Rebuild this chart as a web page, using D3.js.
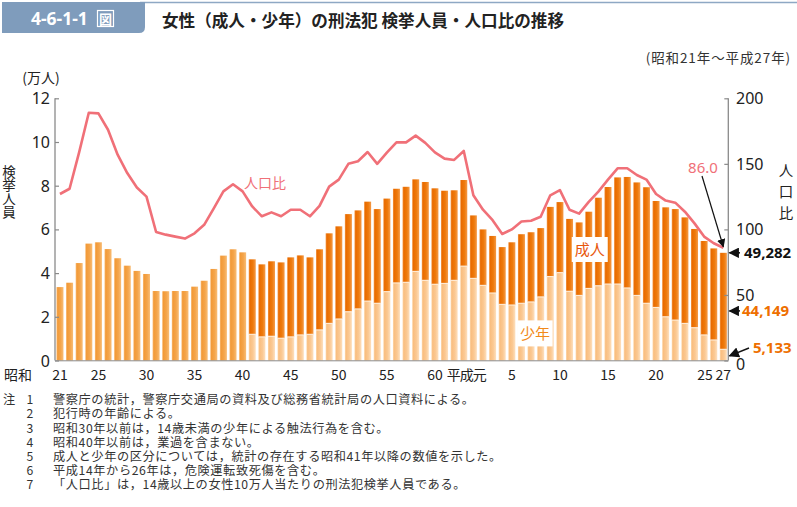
<!DOCTYPE html>
<html><head><meta charset="utf-8">
<script src="https://cdn.jsdelivr.net/npm/d3@7"></script>
<style>
html,body{margin:0;padding:0;background:#fff;}
svg{display:block;font-family:"Noto Sans","Noto Sans CJK JP",sans-serif;}
.jp{font-family:"Noto Sans CJK JP","Noto Sans",sans-serif;}
.vert{writing-mode:vertical-rl;text-orientation:upright;}
.note-line{position:relative;height:14.2px;line-height:14.2px;white-space:nowrap;font-family:"Noto Sans CJK JP","Noto Sans",sans-serif;font-size:12.2px;color:#333;}
.note-line span{position:absolute;top:0;}
</style></head>
<body>
<svg id="c" width="797" height="507"></svg>
<script>
// ---- data ----
// years 昭和21 (1946) ... 平成27 (2015)
const years = d3.range(1946, 2016);
// total female arrests (10,000 persons)
const total = [3.36,3.56,4.46,5.35,5.41,5.10,4.68,4.34,4.10,3.96,3.18,3.17,3.18,3.18,3.38,3.65,4.19,4.80,5.09,4.95,
  4.63,4.40,4.54,4.49,4.72,4.81,4.72,5.09,5.82,6.14,6.70,6.87,7.27,6.93,7.41,7.86,7.95,8.29,8.17,7.88,7.77,7.79,8.26,
  6.64,6.00,5.70,5.19,5.41,5.78,5.87,6.06,7.03,7.25,6.48,6.32,6.81,7.45,7.94,8.38,8.40,8.15,7.93,7.30,7.01,6.93,6.55,6.02,5.47,5.13,4.9282];
// juvenile (少年) from 昭和41 (1966)
const juvenileStart = 1966;
const juvenile = [1.20,1.08,1.11,1.02,1.08,1.17,1.20,1.40,1.70,1.90,2.23,2.36,2.72,2.62,3.15,3.55,3.58,4.08,3.67,3.49,3.53,3.67,4.32,
  3.76,3.44,3.09,2.57,2.54,2.62,2.68,2.91,3.84,4.02,3.17,2.98,3.30,3.42,3.50,3.50,3.32,2.98,2.62,2.43,2.00,1.85,1.70,1.50,1.17,0.94,0.5133];
// population ratio (人口比)
const ratio = [127,131,159,189,188.5,176,157,143,132,125,98,96,94.5,93,97,103.5,116,129,134.4,129,
  117.5,110,113,110,115,115,110,118,132.6,138,150,152,159,150,158.5,166.4,166.4,171.5,166,158.8,154,153,159.8,
  126,115,107,96.5,100,106,106.6,109.7,126,130,115,112,121,128.8,138,146.6,146.6,141.5,138,127,122,120.4,113.5,104.6,94.5,89.4,86.0];
const xTickYears = [1946,1950,1955,1960,1965,1970,1975,1980,1985,1989,1993,1998,2003,2008,2013,2015];
const xTickLabels = ["21","25","30","35","40","45","50","55","60","平成元","5","10","15","20","25","27"];
const leftTicks = [0,2,4,6,8,10,12];
const rightTicks = [0,50,100,150,200];
const notes = [
  ["注","1","警察庁の統計，警察庁交通局の資料及び総務省統計局の人口資料による。"],
  ["","2","犯行時の年齢による。"],
  ["","3","昭和30年以前は，14歳未満の少年による触法行為を含む。"],
  ["","4","昭和40年以前は，業過を含まない。"],
  ["","5","成人と少年の区分については，統計の存在する昭和41年以降の数値を示した。"],
  ["","6","平成14年から26年は，危険運転致死傷を含む。"],
  ["","7","「人口比」は，14歳以上の女性10万人当たりの刑法犯検挙人員である。"]
];

// ---- scales ----
const svg = d3.select("#c");
const x = d3.scaleBand().domain(years).range([55, 728.3]).paddingInner(0.27).paddingOuter(0.15);
const yL = d3.scaleLinear().domain([0,12]).range([360.5, 98.3]);
const yR = d3.scaleLinear().domain([0,200]).range([360.5, 98.3]);
const cx = d => x(d) + x.bandwidth()/2;

// gradients
const defs = svg.append("defs");
function grad(id, stops){
  const g = defs.append("linearGradient").attr("id", id).attr("x1",0).attr("x2",1).attr("y1",0).attr("y2",0);
  stops.forEach(s => g.append("stop").attr("offset", s[0]).attr("stop-color", s[1]));
}
grad("gEarly", [[0,"#f9bd7a"],[0.18,"#f29a38"],[0.6,"#f4a54b"],[1,"#f8bd77"]]);
grad("gAdult", [[0,"#f39a4a"],[0.18,"#e96b00"],[0.6,"#ee7a0c"],[1,"#f49a48"]]);
grad("gJuv",   [[0,"#fdd9ae"],[0.18,"#f9be80"],[0.6,"#fbc993"],[1,"#fde0bf"]]);

// ---- header ----
svg.append("line").attr("x1",140).attr("x2",797).attr("y1",2.5).attr("y2",2.5).attr("stroke","#8ea8c4").attr("stroke-width",1.5);
svg.append("path").attr("d","M2,2 H145 V27 Q145,33 139,33 H2 Z").attr("fill","#7f9cbc");
svg.append("text").attr("x",31).attr("y",25).attr("fill","#fff").attr("font-size",17.5).attr("font-weight","bold").text("4-6-1-1");
svg.append("rect").attr("x",97.5).attr("y",10.5).attr("width",16).attr("height",16).attr("fill","none").attr("stroke","#fff").attr("stroke-width",1.2);
svg.append("text").attr("class","jp").attr("x",105.5).attr("y",23.5).attr("text-anchor","middle").attr("fill","#fff").attr("font-size",13).attr("font-weight","bold").text("図");
svg.append("text").attr("class","jp").attr("x",162).attr("y",27).attr("font-size",16.6).attr("font-weight","bold").attr("fill","#222")
  .text("女性（成人・少年）の刑法犯 検挙人員・人口比の推移");
svg.append("text").attr("class","jp").attr("x",791).attr("y",63).attr("text-anchor","end").attr("font-size",13.5).attr("letter-spacing",0.9).attr("fill","#333")
  .text("(昭和21年～平成27年)");

// ---- bars ----
const barsG = svg.append("g");
years.forEach((yr, i) => {
  const t = total[i];
  const j = yr >= juvenileStart ? juvenile[yr - juvenileStart] : null;
  if (j === null) {
    barsG.append("rect").attr("x", x(yr)).attr("width", x.bandwidth())
      .attr("y", yL(t)).attr("height", yL(0) - yL(t)).attr("fill","url(#gEarly)");
  } else {
    barsG.append("rect").attr("x", x(yr)).attr("width", x.bandwidth())
      .attr("y", yL(j)).attr("height", yL(0) - yL(j)).attr("fill","url(#gJuv)");
    barsG.append("rect").attr("x", x(yr)).attr("width", x.bandwidth())
      .attr("y", yL(t)).attr("height", yL(j) - yL(t)).attr("fill","url(#gAdult)");
    barsG.append("rect").attr("x", x(yr)).attr("width", x.bandwidth())
      .attr("y", yL(j)-0.5).attr("height", 1).attr("fill","#fff3e4");
  }
});

// ---- axes ----
const axisColor = "#8a8a8a";
const gL = svg.append("g").attr("transform","translate(55,0)")
  .call(d3.axisRight(yL).tickValues(leftTicks).tickSize(4).tickFormat(""));
gL.select(".domain").attr("stroke",axisColor).attr("stroke-width",1.3).attr("d","M0,98.3V360.5");
gL.selectAll(".tick line").attr("stroke",axisColor).attr("stroke-width",1.2);
leftTicks.forEach(v => {
  svg.append("text").attr("x",50).attr("y",yL(v)+6).attr("text-anchor","end").attr("font-size",16).attr("fill","#222").text(v);
});
const gR = svg.append("g").attr("transform","translate(728.3,0)")
  .call(d3.axisLeft(yR).tickValues(rightTicks).tickSize(4).tickFormat(""));
gR.select(".domain").attr("stroke",axisColor).attr("stroke-width",1.3).attr("d","M0,98.3V360.5");
gR.selectAll(".tick line").attr("stroke",axisColor).attr("stroke-width",1.2);
rightTicks.forEach(v => {
  svg.append("text").attr("x",736).attr("y",yR(v)+6 + (v===0?3:0)).attr("font-size",16).attr("fill","#222").text(v);
});
svg.append("line").attr("x1",55).attr("x2",728.3).attr("y1",360.8).attr("y2",360.8).attr("stroke",axisColor).attr("stroke-width",1);

// x labels
svg.append("text").attr("class","jp").attr("x",4).attr("y",380).attr("font-size",14).attr("fill","#222").text("昭和");
xTickYears.forEach((yr, k) => {
  const lbl = xTickLabels[k];
  let px = cx(yr);
  if (lbl === "平成元") px = cx(yr) - 7;
  if (yr === 2013) px = cx(yr) + 1;
  svg.append("text").attr("class","jp").attr("x",px).attr("y",380).attr("text-anchor","middle")
    .attr("font-size",14).attr("fill","#222").attr("letter-spacing", lbl==="平成元"?-1:0).text(lbl);
});

// axis titles
svg.append("text").attr("class","jp").attr("x",41).attr("y",83).attr("text-anchor","middle").attr("font-size",14).attr("fill","#222").text("(万人)");
svg.append("text").attr("class","jp vert").attr("x",9).attr("y",165).attr("font-size",13.5).attr("fill","#222").text("検挙人員");
svg.append("text").attr("class","jp vert").attr("x",786).attr("y",163).attr("font-size",14.5).attr("letter-spacing",7).attr("fill","#222").text("人口比");

// ---- ratio line ----
const line = d3.line().x((d,i) => cx(years[i])).y(d => yR(d));
svg.append("path").datum(ratio).attr("d", line).attr("fill","none").attr("stroke","#f07078").attr("stroke-width",2.6).attr("stroke-linejoin","round");
svg.append("text").attr("class","jp").attr("x",244).attr("y",188).attr("font-size",14).attr("fill","#f07078").text("人口比");

// labels 成人 / 少年
function boxLabel(cxp, cyp, w, h, txt, color){
  svg.append("rect").attr("x",cxp-w/2).attr("y",cyp-h/2).attr("width",w).attr("height",h).attr("fill","#fff");
  svg.append("text").attr("class","jp").attr("x",cxp).attr("y",cyp+5.5).attr("text-anchor","middle").attr("font-size",15).attr("fill",color).text(txt);
}
boxLabel(cx(2001)+1, yL(5.08), 36, 25, "成人", "#e8560c");
boxLabel(cx(1995)+4, yL(1.24), 35, 26, "少年", "#f28a1a");

// ---- annotations ----
defs.append("marker").attr("id","ah").attr("viewBox","0 0 10 10").attr("refX",9).attr("refY",5)
  .attr("markerWidth",7).attr("markerHeight",7).attr("orient","auto-start-reverse")
  .append("path").attr("d","M0,0 L10,5 L0,10 Z").attr("fill","#111");
const last = years.length - 1;
const lastTot = total[last], lastJuv = juvenile[juvenile.length-1], lastAdult = lastTot - lastJuv;
const fmt = d3.format(",");
// 86.0
svg.append("text").attr("x",703).attr("y",173).attr("text-anchor","middle").attr("font-size",15).attr("fill","#f07078").text(ratio[last].toFixed(1));
svg.append("line").attr("x1",702).attr("y1",176).attr("x2",cx(years[last])).attr("y2",yR(ratio[last])-1)
  .attr("stroke","#111").attr("stroke-width",1.2).attr("marker-end","url(#ah)");
// total
svg.append("line").attr("x1",740).attr("y1",yL(lastTot)).attr("x2",729.5).attr("y2",yL(lastTot))
  .attr("stroke","#111").attr("stroke-width",1.5).attr("marker-end","url(#ah)");
svg.append("text").attr("x",744).attr("y",yL(lastTot)+5.5).attr("font-size",15).attr("font-weight","bold").attr("fill","#111").text(fmt(Math.round(lastTot*10000)));
// adult
svg.append("line").attr("x1",740).attr("y1",yL(2.27)).attr("x2",729.5).attr("y2",yL(2.27))
  .attr("stroke","#111").attr("stroke-width",1.5).attr("marker-end","url(#ah)");
svg.append("text").attr("x",742).attr("y",yL(2.27)+5.5).attr("font-size",15).attr("font-weight","bold").attr("fill","#ee6f00").text(fmt(Math.round(lastAdult*10000)));
// juvenile
svg.append("line").attr("x1",749).attr("y1",yL(0.57)).attr("x2",729.5).attr("y2",yL(lastJuv/2)+1)
  .attr("stroke","#111").attr("stroke-width",1.5).attr("marker-end","url(#ah)");
svg.append("text").attr("x",753).attr("y",yL(0.57)+5).attr("font-size",15).attr("font-weight","bold").attr("fill","#ee6f00").text(fmt(Math.round(lastJuv*10000)));

// ---- notes (HTML block with tight line height) ----
const fo = svg.append("foreignObject").attr("x",0).attr("y",392.3).attr("width",797).attr("height",110);
const box = fo.append("xhtml:div");
notes.forEach(n => {
  const row = box.append("xhtml:div").attr("class","note-line");
  if (n[0]) row.append("xhtml:span").style("left","3px").text(n[0]);
  row.append("xhtml:span").style("left","26.5px").text(n[1]);
  row.append("xhtml:span").style("left","53px").style("letter-spacing","0.6px").text(n[2]);
});
</script>
</body></html>
